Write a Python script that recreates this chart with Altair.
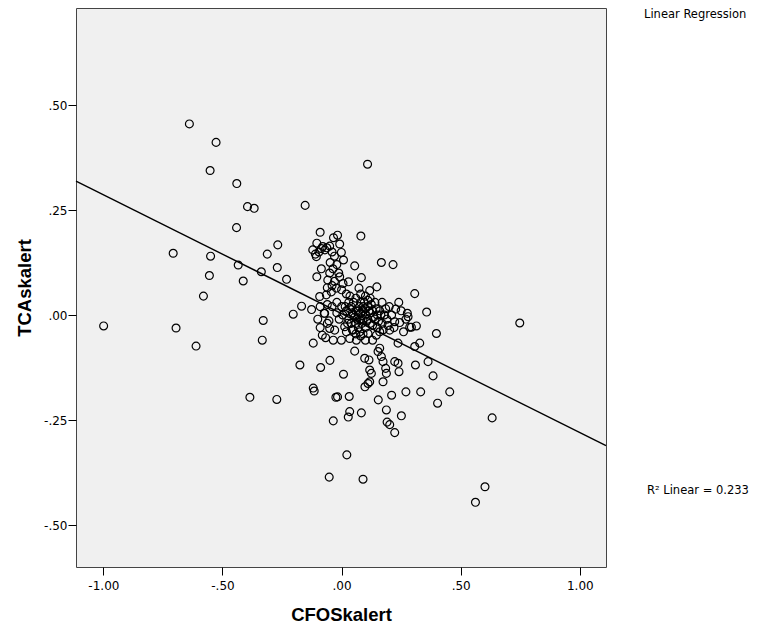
import altair as alt
import pandas as pd

# Scatter points (CFOSkalert, TCAskalert)
cfo = [
    -0.639, -0.527, -0.552, -0.440, -0.395, -0.367, -0.153, -0.441, -0.090, -0.707,
    -0.550, -0.268, -0.312, -0.434, -0.555, -0.337, -0.270, -0.413, -0.231, -0.580,
    -0.168, -0.203, -0.126, -0.329, -0.999, -0.695, -0.611, -0.333, -0.119, -0.175,
    -0.088, -0.049, -0.119, -0.115, -0.385, -0.272, -0.024, -0.035, -0.052, -0.081,
    -0.067, -0.053, -0.073, -0.035, 0.109, 0.081, -0.017, -0.034, -0.104, -0.121,
    -0.079, -0.050, -0.008, -0.106, -0.001, 0.008, -0.048, 0.055, 0.167, 0.216,
    -0.085, -0.036, -0.104, -0.058, -0.008, 0.083, 0.148, 0.307, 0.357, 0.029,
    0.073, 0.118, -0.092, -0.064, -0.043, -0.022, 0.006, 0.227, 0.276, -0.071,
    0.398, 0.279, 0.314, 0.286, 0.244, 0.237, 0.328, 0.307, 0.363, 0.310,
    0.384, 0.454, 0.403, 0.332, 0.270, 0.210, 0.154, 0.251, 0.188, 0.191,
    0.202, 0.223, 0.083, 0.034, 0.028, -0.017, 0.032, 0.008, 0.055, 0.098,
    0.118, 0.111, 0.174, 0.022, 0.090, 0.097, 0.115, 0.118, 0.125, 0.153,
    0.160, 0.167, 0.174, 0.185, 0.188, 0.223, 0.237, 0.241, -0.001, 0.034,
    0.062, -0.050, -0.029, 0.013, 0.048, 0.076, 0.111, 0.146, 0.202, 0.223,
    0.748, 0.632, 0.602, 0.562, 0.293,
    # upper-left part of the central cloud
    -0.095, -0.085, -0.070, -0.062, -0.040, -0.030, -0.110, -0.020, -0.050, -0.040,
    -0.060, -0.030, -0.012, 0.000, 0.020, -0.020, -0.040, -0.060, -0.090, -0.100,
    -0.090, -0.060,
    # dense core
    0.02, 0.03, 0.04, 0.05, 0.06, 0.07, 0.08, 0.09, 0.10, 0.11,
    0.12, 0.13, 0.14, 0.15, 0.05, 0.06, 0.07, 0.08, 0.09, 0.10,
    0.04, 0.03, 0.06, 0.07, 0.08, 0.09, 0.10, 0.11, 0.12, 0.13,
    0.065, 0.075, 0.085, 0.095, 0.105, 0.115, 0.125, 0.135, 0.045, 0.055,
    0.035, 0.025, 0.015, 0.005, 0.16, 0.17, 0.18, 0.19, 0.20, 0.16,
    0.14, 0.12, 0.10, 0.08, 0.06, 0.08, 0.10, 0.13, 0.15, 0.17,
    0.02, 0.00, -0.01, -0.02, 0.035, 0.045, 0.09, 0.11, 0.145, 0.155,
    0.165, 0.175, 0.185, 0.195, 0.21, 0.22, 0.25, 0.26, 0.27, 0.24,
]
tca = [
    0.455, 0.411, 0.344, 0.313, 0.258, 0.254, 0.261, 0.208, 0.197, 0.147,
    0.140, 0.167, 0.145, 0.119, 0.094, 0.103, 0.113, 0.081, 0.085, 0.045,
    0.021, 0.002, 0.013, -0.013, -0.026, -0.031, -0.074, -0.060, -0.067, -0.119,
    -0.125, -0.108, -0.174, -0.181, -0.196, -0.201, -0.196, -0.252, -0.386, -0.048,
    -0.054, -0.014, 0.004, -0.060, 0.359, 0.188, 0.190, 0.184, 0.171, 0.155,
    0.163, 0.164, 0.169, 0.139, 0.149, 0.131, 0.125, 0.117, 0.125, 0.120,
    0.110, 0.110, 0.091, 0.083, 0.091, 0.089, 0.067, 0.051, 0.007, 0.079,
    0.064, 0.058, 0.044, 0.048, 0.055, 0.064, 0.075, 0.014, 0.004, 0.004,
    -0.044, -0.004, -0.026, -0.029, -0.018, -0.067, -0.067, -0.075, -0.111, -0.119,
    -0.145, -0.183, -0.210, -0.183, -0.183, -0.191, -0.202, -0.240, -0.226, -0.255,
    -0.261, -0.280, -0.233, -0.230, -0.243, -0.195, -0.194, -0.141, -0.086, -0.171,
    -0.159, -0.163, -0.159, -0.333, -0.391, -0.103, -0.107, -0.131, -0.139, -0.087,
    -0.079, -0.099, -0.111, -0.127, -0.139, -0.111, -0.115, -0.135, -0.060, -0.056,
    -0.060, -0.032, -0.036, -0.028, -0.036, -0.040, -0.044, -0.048, -0.036, -0.016,
    -0.019, -0.245, -0.409, -0.446, -0.029,
    0.150, 0.158, 0.155, 0.160, 0.150, 0.140, 0.145, 0.120, 0.100, 0.070,
    0.065, 0.080, 0.100, 0.060, 0.050, 0.030, 0.020, 0.025, 0.020, -0.010,
    -0.030, -0.020,
    0.01, -0.01, 0.02, 0.00, -0.02, 0.01, 0.03, -0.01, 0.00, 0.02,
    -0.02, 0.01, -0.01, 0.00, 0.03, 0.04, -0.03, -0.01, 0.02, -0.03,
    -0.02, 0.03, 0.01, 0.00, 0.005, 0.01, 0.015, -0.01, 0.005, -0.025,
    -0.01, 0.02, -0.02, 0.03, -0.015, 0.01, 0.025, -0.005, 0.005, -0.005,
    0.015, -0.02, 0.02, 0.00, 0.01, -0.02, 0.00, -0.01, 0.02, -0.04,
    0.03, 0.04, 0.045, 0.05, -0.045, -0.05, -0.06, -0.06, -0.03, 0.03,
    -0.04, 0.02, -0.01, 0.005, 0.045, -0.035, -0.045, 0.035, 0.015, -0.015,
    0.00, -0.035, 0.015, -0.025, 0.00, -0.03, 0.01, -0.04, -0.01, 0.03,
]

x_ticks = [-1.0, -0.5, 0.0, 0.5, 1.0]
y_ticks = [-0.5, -0.25, 0.0, 0.25, 0.5]
x_domain = [-1.115, 1.11]
y_domain = [-0.600, 0.731]

# Fit line as drawn in the reference (values at the two plot edges)
fit_x = [-1.115, 1.11]
fit_y = [0.319, -0.311]

df = pd.DataFrame({"CFOSkalert": cfo, "TCAskalert": tca})
fit_df = pd.DataFrame({"CFOSkalert": fit_x, "TCAskalert": fit_y})

label_expr = ("replace(replace(format(datum.value, '.2f'), '0.', '.'), '\u2212', '-')")
LFONT = "DejaVu Sans"
TFONT = "Liberation Sans"

x_enc = alt.X(
    "CFOSkalert:Q",
    scale=alt.Scale(domain=x_domain, nice=False, zero=False),
    axis=alt.Axis(values=x_ticks, labelExpr=label_expr, grid=False,
                  tickSize=8, tickColor="black", domain=False,
                  labelFontSize=12, labelColor="black", labelFont=LFONT, labelPadding=5,
                  title="CFOSkalert", titleFontSize=18.5, titleFont=TFONT,
                  titleFontWeight="bold", titleColor="black", titlePadding=14),
)
y_enc = alt.Y(
    "TCAskalert:Q",
    scale=alt.Scale(domain=y_domain, nice=False, zero=False),
    axis=alt.Axis(values=y_ticks, labelExpr=label_expr, grid=False,
                  tickSize=8, tickColor="black", domain=False,
                  labelFontSize=12, labelColor="black", labelFont=LFONT, labelPadding=1,
                  title="TCAskalert", titleFontSize=18.5, titleFont=TFONT,
                  titleFontWeight="bold", titleColor="black", titlePadding=9),
)

points = alt.Chart(df).mark_point(
    shape="circle", filled=False, color="black", strokeWidth=1.2, size=62, opacity=1
).encode(x=x_enc, y=y_enc)

reg = alt.Chart(fit_df).mark_line(color="black", strokeWidth=1.4).encode(
    x="CFOSkalert:Q", y="TCAskalert:Q"
)

note_df = pd.DataFrame({"t": ["Linear Regression", "R\u00b2 Linear = 0.233"],
                        "px": [568, 571], "py": [7, 483], "fs": [11.5, 11.5]})
notes = alt.Chart(note_df).mark_text(
    align="left", baseline="middle", font=LFONT, color="black"
).encode(x=alt.X("px:Q", scale=None), y=alt.Y("py:Q", scale=None), text="t:N",
         size=alt.Size("fs:Q", scale=None, legend=None))

chart = alt.layer(points, reg, notes).properties(
    width=530, height=559,
    autosize=alt.AutoSizeParams(type="none"),
    padding={"left": 68, "top": 0, "right": 152, "bottom": 57},
    background="white",
).configure_view(fill="#F0F0F0", stroke="#444444", strokeWidth=1)

chart.save("out.html", embed_options={"renderer": "svg", "actions": False})
